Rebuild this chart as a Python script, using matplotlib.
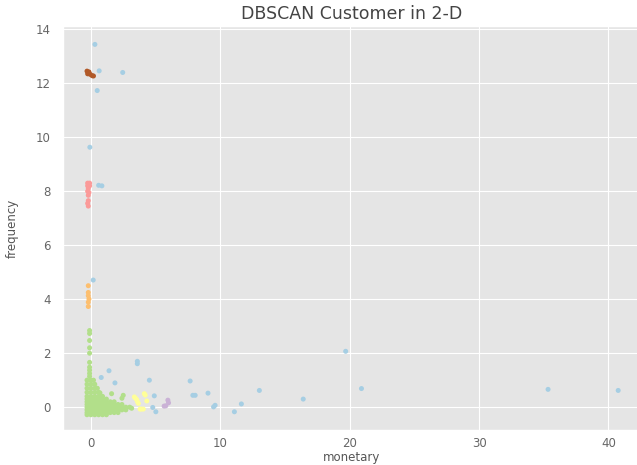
import matplotlib
matplotlib.use('Agg')
import matplotlib.pyplot as plt

# DBSCAN labels: -1 = noise, 0..5 = clusters
noise_x = [0.31, 0.64, 2.46, 0.49, -0.08, 0.6, 0.85, 0.18, 3.59, 3.59, 1.40, 0.80, 1.86,
           4.52, 4.90, 4.78, 5.02, 7.67, 7.88, 8.06, 9.05, 9.60, 9.48, 11.09, 11.63,
           13.02, 16.41, 19.69, 20.91, 35.33, 40.75]
noise_y = [13.44, 12.46, 12.40, 11.73, 9.63, 8.22, 8.20, 4.71, 1.70, 1.61, 1.35, 1.10, 0.90,
           1.00, 0.42, -0.01, -0.17, 0.97, 0.44, 0.44, 0.52, 0.07, 0.01, -0.17, 0.12,
           0.62, 0.30, 2.07, 0.69, 0.66, 0.62]

# cluster 0 - big blob near the origin
c0_x = [-0.1, -0.1, -0.1, -0.1, -0.1, -0.1, -0.1, -0.1, -0.1, -0.1,
        -0.3, 0.0, 0.2,
        -0.3, 0.0, 0.3,
        -0.3, 0.0, 0.3, 0.5,
        -0.3, 0.0, 0.3, 0.6,
        -0.3, 0.0, 0.3, 0.6, 0.9,
        -0.3, 0.0, 0.3, 0.6, 0.9, 1.2,
        -0.3, 0.0, 0.3, 0.6, 0.9, 1.2, 1.5, 1.8, 2.4,
        -0.3, 0.0, 0.3, 0.6, 0.9, 1.2, 1.5, 1.8, 2.1, 2.4,
        -0.3, 0.0, 0.3, 0.6, 0.9, 1.2, 1.5, 1.8, 2.1, 2.4, 2.7, 3.0, 3.15,
        -0.3, 0.0, 0.3, 0.6, 0.9, 1.2, 1.5, 1.8, 2.1, 2.4, 2.7,
        -0.3, 0.0, 0.3, 0.6, 0.9, 1.2, 1.5, 1.8, 2.1,
        -0.3, 0.0, 0.3, 0.6, 0.9, 1.2,
        0.7, 1.6, 2.5]
c0_y = [2.84, 2.73, 2.47, 2.20, 2.00, 1.66, 1.48, 1.37, 1.25, 1.14,
        1.0, 1.0, 1.0,
        0.85, 0.85, 0.85,
        0.7, 0.7, 0.7, 0.7,
        0.55, 0.55, 0.55, 0.55,
        0.4, 0.4, 0.4, 0.4, 0.4,
        0.3, 0.3, 0.3, 0.3, 0.3, 0.3,
        0.2, 0.2, 0.2, 0.2, 0.2, 0.2, 0.2, 0.2, 0.33,
        0.1, 0.1, 0.1, 0.1, 0.1, 0.1, 0.1, 0.1, 0.1, 0.1,
        0.0, 0.0, 0.0, 0.0, 0.0, 0.0, 0.0, 0.0, 0.0, 0.0, 0.0, 0.0, -0.04,
        -0.1, -0.1, -0.1, -0.1, -0.1, -0.1, -0.1, -0.1, -0.1, -0.1, -0.1,
        -0.2, -0.2, -0.2, -0.2, -0.2, -0.2, -0.2, -0.2, -0.2,
        -0.28, -0.28, -0.28, -0.28, -0.28, -0.28,
        0.53, 0.50, 0.44]

# cluster 1 - around frequency 8
c1_x = [-0.25, -0.1, -0.25, -0.1, -0.2, -0.25, -0.15, -0.2, -0.2, -0.25, -0.2]
c1_y = [8.30, 8.30, 8.20, 8.20, 8.10, 8.00, 7.95, 7.85, 7.65, 7.55, 7.45]

# cluster 2 - around frequency 4
c2_x = [-0.2, -0.2, -0.2, -0.15, -0.2, -0.2]
c2_y = [4.50, 4.25, 4.13, 4.01, 3.89, 3.73]

# cluster 3 - purple
c3_x = [5.95, 6.00, 5.79, 5.66]
c3_y = [0.26, 0.16, 0.05, 0.04]

# cluster 4 - yellow
c4_x = [3.36, 3.45, 3.54, 3.60, 3.67, 4.13, 4.20, 4.32, 3.80, 3.90, 4.05]
c4_y = [0.38, 0.33, 0.28, 0.20, 0.14, 0.50, 0.45, 0.23, -0.07, -0.07, -0.07]

# cluster 5 - brown, around frequency 12
c5_x = [-0.3, -0.15, -0.25, -0.05, 0.1, 0.2]
c5_y = [12.45, 12.42, 12.35, 12.33, 12.28, 12.27]

groups = [(noise_x, noise_y, '#a6cee3'),
          (c0_x, c0_y, '#b2df8a'),
          (c1_x, c1_y, '#fb9a99'),
          (c2_x, c2_y, '#fdbf6f'),
          (c3_x, c3_y, '#cab2d6'),
          (c4_x, c4_y, '#ffff99'),
          (c5_x, c5_y, '#b15928')]

plt.style.use('ggplot')
fig = plt.figure(figsize=(6.37, 4.65), dpi=100)
ax = fig.add_axes([0.099, 0.075, 0.905, 0.869])

for gx, gy, col in groups:
    ax.scatter(gx, gy, s=13, c=col, edgecolors='none')

ax.set_xlim(-2.15, 42.4)
ax.set_ylim(-0.85, 14.12)
ax.set_xticks([0, 10, 20, 30, 40])
ax.set_yticks([0, 2, 4, 6, 8, 10, 12, 14])
ax.tick_params(labelsize=8.5, colors='#666666', length=0)
ax.tick_params(axis='y', pad=9)
ax.tick_params(axis='x', pad=5)
ax.set_title('DBSCAN Customer in 2-D', fontsize=12.5, color='#444444', pad=5)
ax.set_xlabel('monetary', fontsize=8.5, color='#555555', labelpad=1)
ax.set_ylabel('frequency', fontsize=8.5, color='#555555', labelpad=12)

plt.savefig('out.png', dpi=100)
